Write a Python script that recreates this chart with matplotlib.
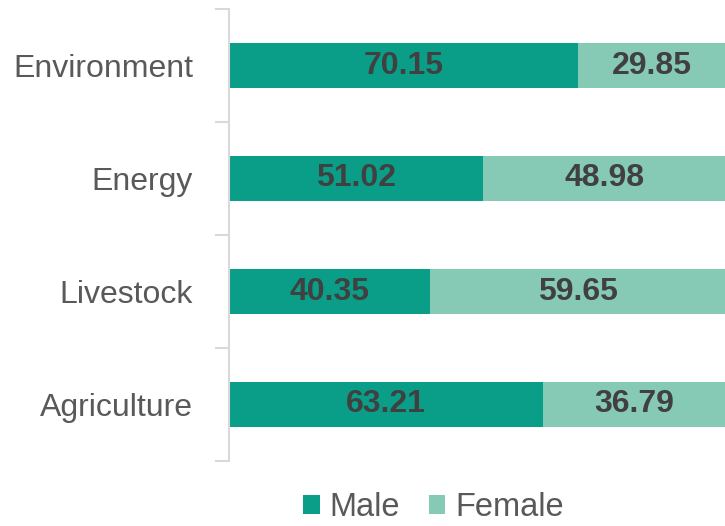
import matplotlib.pyplot as plt
import numpy as np

categories = ["Agriculture", "Livestock", "Energy", "Environment"]
male = [63.21, 40.35, 51.02, 70.15]
female = [36.79, 59.65, 48.98, 29.85]

male_color = "#0a9e88"
female_color = "#86c9b5"

plt.rcParams['font.family'] = ['Liberation Sans', 'DejaVu Sans']

fig = plt.figure(figsize=(7.25, 5.26), dpi=100)
ax = fig.add_axes([229 / 725, 65 / 526, 497 / 725, 452 / 526])

y = np.arange(len(categories))
h = 0.4
b1 = ax.barh(y, male, height=h, color=male_color, label="Male")
b2 = ax.barh(y, female, height=h, left=male, color=female_color, label="Female")

for bars in (b1, b2):
    ax.bar_label(bars, labels=["%.2f" % v for v in bars.datavalues],
                 label_type="center", fontsize=23, fontweight="bold",
                 color="#404040")

ax.set_xlim(0, 100)
ax.set_ylim(-0.5, len(categories) - 0.5)
ax.set_xticks([])
ax.set_yticks(np.arange(-0.5, len(categories), 1.0))
ax.set_yticklabels([])
ax.set_yticks(y, minor=True)
ax.set_yticklabels(categories, minor=True, fontsize=23, color="#595959")
ax.tick_params(axis="y", which="major", length=10, color="#d9d9d9", width=1.5)
ax.tick_params(axis="y", which="minor", length=0, pad=26)
for s in ["top", "right", "bottom"]:
    ax.spines[s].set_visible(False)
ax.spines["left"].set_color("#d9d9d9")
ax.spines["left"].set_linewidth(1.5)

fig.legend(handles=[b1, b2], loc="lower center", bbox_to_anchor=(0.598, -0.05),
           ncol=2, frameon=False, fontsize=23.5, labelcolor="#595959",
           handlelength=0.5, handleheight=0.5, handletextpad=0.3,
           columnspacing=0.9)

fig.savefig("out.png", dpi=100)
